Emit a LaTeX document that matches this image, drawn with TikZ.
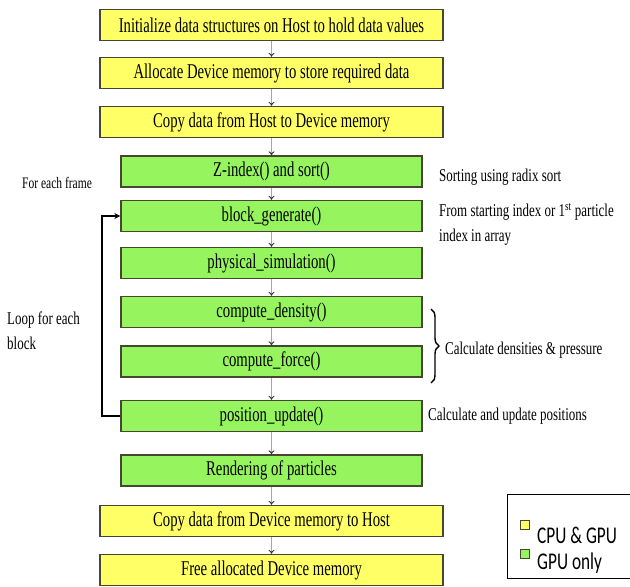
\documentclass[tikz,border=0pt]{standalone}
\usepackage{fontspec}
\setmainfont{Liberation Serif}
\newfontfamily\tnrfont[FakeStretch=0.70]{Liberation Serif}
\newfontfamily\sidefont[FakeStretch=0.72]{Liberation Serif}
\newfontfamily\legfont[FakeStretch=0.72]{Carlito}
\usetikzlibrary{arrows.meta,decorations.pathreplacing}
\definecolor{ybox}{RGB}{255,255,102}
\definecolor{gbox}{RGB}{150,245,95}
\definecolor{bord}{RGB}{70,70,50}
\tikzset{
  boxbase/.style={draw=bord, line width=1.3pt, minimum height=31pt, inner sep=0pt,
    font=\tnrfont\fontsize{21}{24}\selectfont},
  ybx/.style={boxbase, fill=ybox, minimum width=343pt},
  gbx/.style={boxbase, fill=gbox, minimum width=301pt},
  arr/.style={draw=gray!70, line width=0.9pt, -{To[length=4pt,width=6pt,color=gray!40!black]}},
  looparr/.style={draw=black, line width=2pt, -{Stealth[length=6pt,width=6pt]}},
  side/.style={font=\sidefont\fontsize{18}{25}\selectfont, inner sep=0pt, align=left},
  leg/.style={font=\legfont\fontsize{24}{26}\selectfont, inner sep=0pt, anchor=west}
}
\begin{document}
\begin{tikzpicture}[x=1pt,y=-1pt]
\useasboundingbox (0,0) rectangle (630,587);
\node[ybx] (b1) at (271.5,25) {Initialize data structures on Host to hold data values};
\node[ybx] (b2) at (271.5,73) {Allocate Device memory to store required data};
\node[ybx] (b3) at (271.5,122) {Copy data from Host to Device memory};
\node[gbx] (b4) at (271.5,171.5) {Z-index() and sort()};
\node[gbx] (b5) at (271.5,216) {block\_generate()};
\node[gbx] (b6) at (271.5,263) {physical\_simulation()};
\node[gbx] (b7) at (271.5,312) {compute\_density()};
\node[gbx] (b8) at (271.5,361.5) {compute\_force()};
\node[gbx] (b9) at (271.5,416) {position\_update()};
\node[gbx] (b10) at (271.5,470.5) {Rendering of particles};
\node[ybx] (b11) at (271.5,521) {Copy data from Device memory to Host};
\node[ybx] (b12) at (271.5,570) {Free allocated Device memory};

\foreach \a/\b in {b1/b2,b2/b3,b3/b4,b4/b5,b5/b6,b6/b7,b7/b8,b8/b9,b9/b10,b10/b11,b11/b12}
  \draw[arr] (\a) -- (\b);

\draw[looparr] (b9.west) -- ++(-18,0) |- (b5.west);

\node[side, anchor=west, font=\sidefont\fontsize{16}{24}\selectfont] (lframe) at (22,183) {For each frame};
\node[side, anchor=north west] (lloop) at (7,312) {Loop for each\\block};
\node[side, anchor=west] (lsort) at (439,177) {Sorting using radix sort};
\node[side, anchor=north west] (lfrom) at (439,203) {From starting index or 1\textsuperscript{st} particle\\index in array};
\coordinate (brt) at (431,309);
\coordinate (brb) at (431,383);
\draw[line width=1.4pt, decorate, decoration={brace, amplitude=8pt}] (brt) -- (brb);
\node[side, anchor=west] (ldens) at (445,350) {Calculate densities \& pressure};
\node[side, anchor=west] (lpos) at (428,416) {Calculate and update positions};

\draw[line width=1pt, black] (631,494) -- (507,494) -- (507,578) -- (631,578);
\node[draw=bord, line width=1pt, fill=ybox, minimum size=9pt, inner sep=0pt] (sqy) at (524.5,524.5) {};
\node[draw=bord, line width=1pt, fill=gbox, minimum size=9pt, inner sep=0pt] (sqg) at (524.5,553.5) {};
\node[leg] (tcpu) at (537,535) {CPU \& GPU};
\node[leg] (tgpu) at (537,563) {GPU only};
\end{tikzpicture}
\end{document}
